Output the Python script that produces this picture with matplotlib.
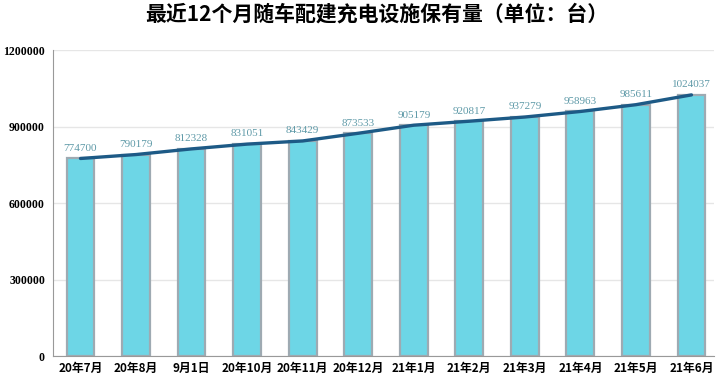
import matplotlib
matplotlib.use("Agg")
import matplotlib.pyplot as plt

plt.rcParams['font.family'] = ['Noto Sans CJK SC', 'DejaVu Sans']

months = ["20年7月", "20年8月", "9月1日", "20年10月", "20年11月", "20年12月",
          "21年1月", "21年2月", "21年3月", "21年4月", "21年5月", "21年6月"]
counts = [774700, 790179, 812328, 831051, 843429, 873533,
          905179, 920817, 937279, 958963, 985611, 1024037]
yticks = [0, 300000, 600000, 900000, 1200000]

fig = plt.figure(figsize=(7.2, 3.76), dpi=100)
ax = fig.add_axes([0.074, 0.053, 0.918, 0.814])

x = list(range(len(months)))
ax.bar(x, counts, width=0.5, color='#6dd6e6', edgecolor='#9eaab2', linewidth=1.6, zorder=2)
ax.plot(x, counts, color='#1d5a86', linewidth=2.4, zorder=3, solid_capstyle='round')

for xi, v in zip(x, counts):
    ax.text(xi, v + 22000, str(v), ha='center', va='bottom', fontsize=8,
            family='Liberation Serif', color='#5f9aa8', zorder=4)

ax.set_xlim(-0.49, 11.41)
ax.set_ylim(0, 1200000)
ax.set_yticks(yticks)
ax.set_yticklabels([str(t) for t in yticks], family='Liberation Serif',
                   fontweight='bold', fontsize=8.5)
ax.set_xticks(x)
ax.set_xticklabels(months, fontweight='bold', fontsize=8.5)
ax.tick_params(length=0, pad=6)
ax.tick_params(axis='x', pad=4)
ax.yaxis.grid(True, color='#e6e6e6', linewidth=1, zorder=0)
ax.set_axisbelow(True)
for s in ['top', 'right']:
    ax.spines[s].set_visible(False)
ax.spines['left'].set_color('#999999')
ax.spines['bottom'].set_color('#999999')

fig.suptitle("最近12个月随车配建充电设施保有量（单位：台）", x=0.523, y=0.99,
             fontsize=15, fontweight='bold')

fig.savefig("out.png", dpi=100)
